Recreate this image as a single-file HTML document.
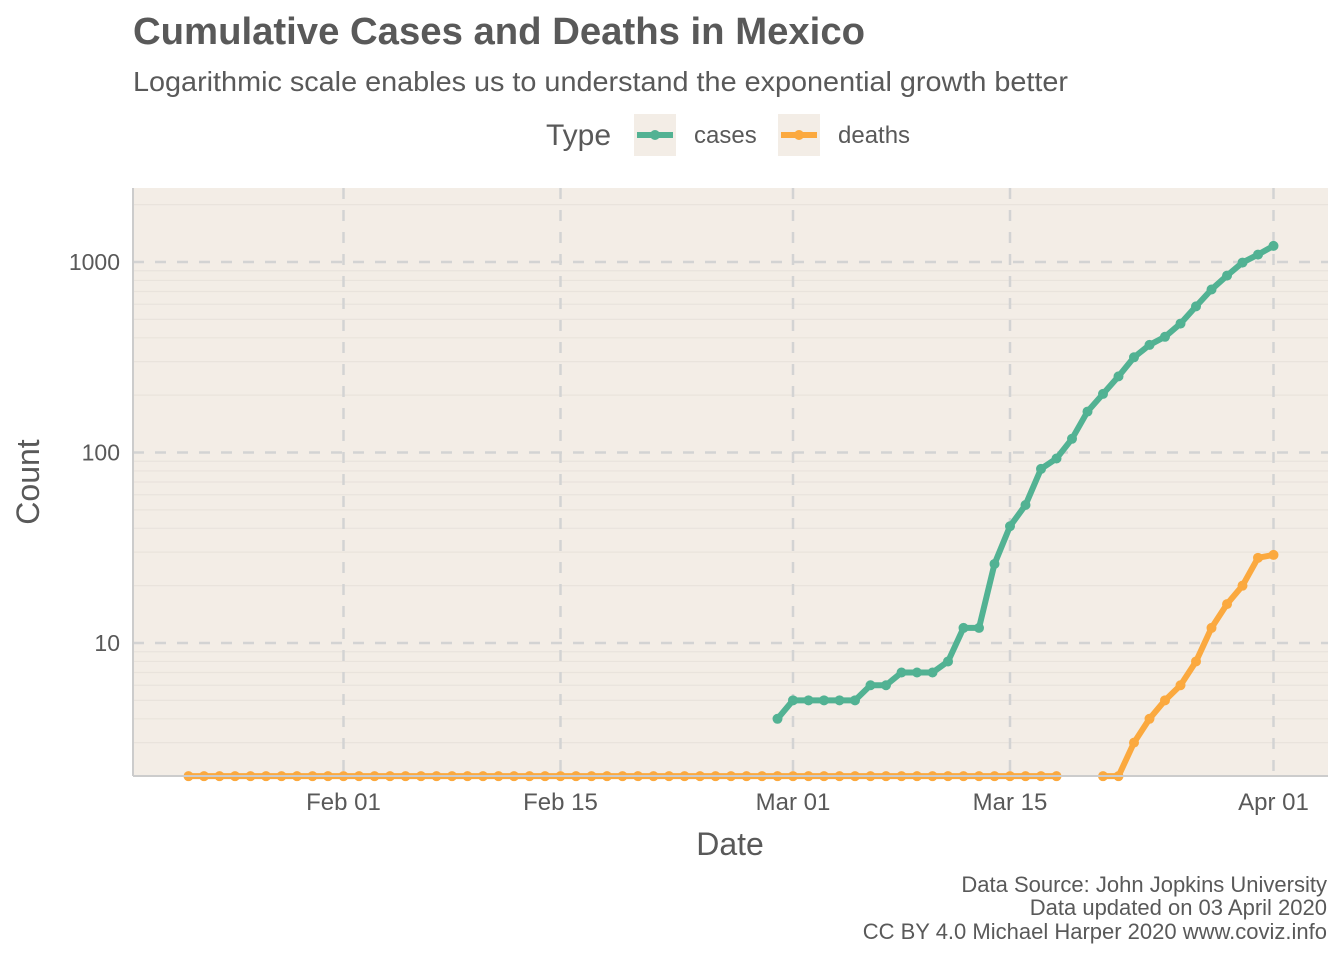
<!DOCTYPE html>
<html><head><meta charset="utf-8"><style>
body{margin:0;background:#fff;}
svg text{font-family:"Liberation Sans",Arial,sans-serif;}
</style></head><body>
<svg id="chart" width="1344" height="960" viewBox="0 0 1344 960">
<text x="133" y="44" font-size="38" font-weight="bold" fill="#595959" textLength="732" lengthAdjust="spacingAndGlyphs">Cumulative Cases and Deaths in Mexico</text>
<text x="133" y="91" font-size="28" fill="#595959" textLength="935" lengthAdjust="spacingAndGlyphs">Logarithmic scale enables us to understand the exponential growth better</text>
<g>
<text x="546" y="145" font-size="30" fill="#595959">Type</text>
<g>
<rect x="634" y="114" width="42" height="42" fill="#f3ede6"/>
<line x1="637" y1="135" x2="673" y2="135" stroke="#52b293" stroke-width="6"/>
<circle cx="655" cy="135" r="5" fill="#52b293"/>
<text x="694" y="143" font-size="24" fill="#595959">cases</text>
</g>
<g>
<rect x="778" y="114" width="42" height="42" fill="#f3ede6"/>
<line x1="781" y1="135" x2="817" y2="135" stroke="#fba93f" stroke-width="6"/>
<circle cx="799" cy="135" r="5" fill="#fba93f"/>
<text x="838" y="143" font-size="24" fill="#595959">deaths</text>
</g>
</g>
<rect x="133" y="188" width="1195" height="588" fill="#f3ede6"/>
<g id="grid"></g>
<g id="series"></g>
<line x1="133" y1="188" x2="133" y2="776" stroke="#cccccc" stroke-width="2"/>
<line x1="133" y1="776" x2="1328" y2="776" stroke="#cccccc" stroke-width="2"/>
<g id="labels"></g>
<text x="730" y="855" font-size="32" fill="#595959" text-anchor="middle">Date</text>
<text transform="translate(39,482) rotate(-90)" font-size="32" fill="#595959" text-anchor="middle">Count</text>
<g font-size="22" fill="#595959" text-anchor="end">
<text x="1327" y="892">Data Source: John Jopkins University</text>
<text x="1327" y="915">Data updated on 03 April 2020</text>
<text x="1327" y="939">CC BY 4.0 Michael Harper 2020 www.coviz.info</text>
</g>
</svg>
<script>
// Day index 0 = Jan 22, 2020
const startDate = "2020-01-22";
const casesStartDay = 38; // Feb 29
const cases = [4,5,5,5,5,5,6,6,7,7,7,8,12,12,26,41,53,82,93,118,164,203,251,316,367,405,475,585,717,848,993,1094,1215];
const deathsZeroDays = 57; // Jan 22 .. Mar 18 are 0
const deathsLate = [null,null,1,2,3,4,5,6,8,12,16,20,28,29]; // Mar 19 .. Apr 1
const yTicks = [10,100,1000];
const yTickLabels = ["10","100","1000"];
const xTickDays = [10,24,39,53,70];
const xTickLabels = ["Feb 01","Feb 15","Mar 01","Mar 15","Apr 01"];

const NS="http://www.w3.org/2000/svg";
const X0=188.5, PXD=15.5;
const xs=d=>X0+d*PXD;
const Y643=643, DEC=190.5;
const ys=v=>{let l=Math.log10(Math.max(v,2));return Y643-(l-1)*DEC;};
function mk(tag,attrs,parent){const e=document.createElementNS(NS,tag);for(const k in attrs)e.setAttribute(k,attrs[k]);parent.appendChild(e);return e;}
const grid=document.getElementById('grid'), series=document.getElementById('series'), labels=document.getElementById('labels');
for(let k=0;k<4;k++)for(let m=2;m<=9;m++){const v=m*Math.pow(10,k);const y=ys(v);if(v<=2||y<188)continue;
 const l=mk('line',{x1:133,x2:1328,y1:y,y2:y,stroke:'#e9e3dc','stroke-width':1.2},grid);
 
 }
yTicks.forEach((v,i)=>{const y=ys(v);
 const l=mk('line',{x1:133,x2:1328,y1:y,y2:y,stroke:'#d3d3d3','stroke-width':2.5,'stroke-dasharray':'11,11'},grid);
 
 
 const t=mk('text',{x:120,y:y+8,'font-size':23,fill:'#595959','text-anchor':'end'},labels);t.textContent=yTickLabels[i];
 
 });
xTickDays.forEach((d,i)=>{const x=xs(d);
 const l=mk('line',{x1:x,x2:x,y1:188,y2:776,stroke:'#d3d3d3','stroke-width':2.5,'stroke-dasharray':'11,11'},grid);
 
 
 const t=mk('text',{x:x,y:810,'font-size':24,fill:'#595959','text-anchor':'middle'},labels);t.textContent=xTickLabels[i];
 
 });
function draw(pts,color,name){
 let segs=[],cur=[];pts.forEach(p=>{if(p[1]==null){if(cur.length)segs.push(cur);cur=[];}else cur.push(p);});if(cur.length)segs.push(cur);
 segs.forEach(s=>{const pl=mk('polyline',{points:s.map(p=>xs(p[0])+','+ys(p[1])).join(' '),fill:'none',stroke:color,'stroke-width':6,'stroke-linejoin':'round'},series);
  
  });
 pts.forEach(p=>{if(p[1]==null)return;const c=mk('circle',{cx:xs(p[0]),cy:ys(p[1]),r:5,fill:color},series);
  
  });
}
const cpts=cases.map((v,i)=>[casesStartDay+i,v]);
const dpts=[];for(let d=0;d<deathsZeroDays;d++)dpts.push([d,0]);deathsLate.forEach((v,i)=>dpts.push([deathsZeroDays+i,v]));
draw(cpts,'#52b293','cases');
draw(dpts,'#fba93f','deaths');
</script>
</body></html>
